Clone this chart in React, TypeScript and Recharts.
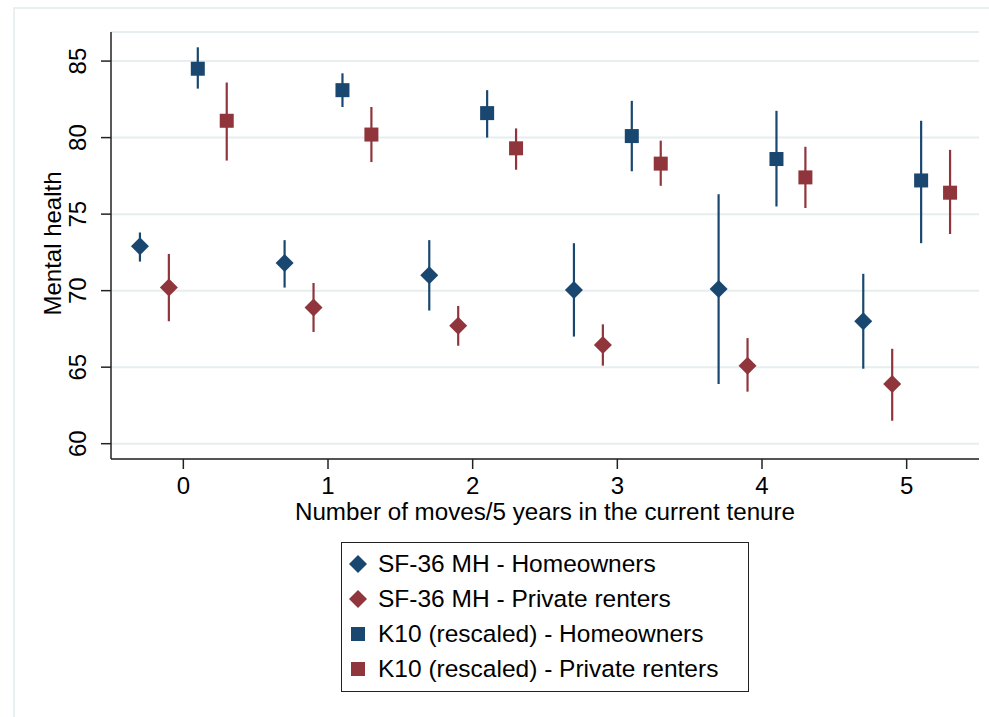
import { ScatterChart, Scatter, XAxis, YAxis, CartesianGrid, ErrorBar, Legend } from 'recharts';

const moves = [0, 1, 2, 3, 4, 5];
const yTicks = [60, 65, 70, 75, 80, 85];

const sfOwners = [72.9, 71.8, 71.0, 70.05, 70.1, 68.0];
const sfOwnersLo = [71.9, 70.2, 68.7, 67.0, 63.9, 64.9];
const sfOwnersHi = [73.8, 73.3, 73.3, 73.1, 76.3, 71.1];

const sfRenters = [70.2, 68.9, 67.7, 66.45, 65.1, 63.9];
const sfRentersLo = [68.0, 67.3, 66.4, 65.1, 63.4, 61.5];
const sfRentersHi = [72.4, 70.5, 69.0, 67.8, 66.9, 66.2];

const k10Owners = [84.5, 83.1, 81.6, 80.1, 78.6, 77.2];
const k10OwnersLo = [83.2, 82.0, 80.0, 77.8, 75.5, 73.1];
const k10OwnersHi = [85.9, 84.2, 83.1, 82.4, 81.75, 81.1];

const k10Renters = [81.1, 80.2, 79.3, 78.3, 77.4, 76.4];
const k10RentersLo = [78.5, 78.4, 77.9, 76.85, 75.4, 73.7];
const k10RentersHi = [83.6, 82.0, 80.6, 79.8, 79.4, 79.2];

const NAVY = '#1a476f';
const MAROON = '#90353b';
const FONT = '"Liberation Sans", Arial, sans-serif';

const build = (vals: number[], lo: number[], hi: number[], shift: number) =>
  moves.map((m, i) => ({ x: m + shift, y: vals[i], err: [vals[i] - lo[i], hi[i] - vals[i]] }));

const series = [
  { name: 'SF-36 MH - Homeowners', data: build(sfOwners, sfOwnersLo, sfOwnersHi, -0.3), color: NAVY, kind: 'diamond' },
  { name: 'SF-36 MH - Private renters', data: build(sfRenters, sfRentersLo, sfRentersHi, -0.1), color: MAROON, kind: 'diamond' },
  { name: 'K10 (rescaled) - Homeowners', data: build(k10Owners, k10OwnersLo, k10OwnersHi, 0.1), color: NAVY, kind: 'square' },
  { name: 'K10 (rescaled) - Private renters', data: build(k10Renters, k10RentersLo, k10RentersHi, 0.3), color: MAROON, kind: 'square' },
];

const Marker = ({ cx, cy, color, kind }: { cx: number; cy: number; color: string; kind: string }) => {
  if (kind === 'square') {
    return <rect x={cx - 7} y={cy - 7} width={14} height={14} fill={color} />;
  }
  return <path d={`M${cx},${cy - 9} L${cx + 9},${cy} L${cx},${cy + 9} L${cx - 9},${cy} Z`} fill={color} />;
};

const YTick = (props: any) => {
  const { x, y, payload } = props;
  return (
    <text
      x={x}
      y={y}
      transform={`rotate(-90, ${x}, ${y})`}
      textAnchor="middle"
      fontSize={24}
      fontFamily={FONT}
      fill="#000"
    >
      {payload.value}
    </text>
  );
};

const YLabel = (props: any) => {
  const { viewBox } = props;
  const cy = viewBox.y + viewBox.height / 2 - 2;
  return (
    <text x={61} y={cy} transform={`rotate(-90, 61, ${cy})`} textAnchor="middle" fontSize={24} fontFamily={FONT} fill="#000">
      Mental health
    </text>
  );
};

const LegendBox = () => (
  <div
    style={{
      border: '1.5px solid #222',
      width: 408,
      height: 150,
      boxSizing: 'border-box',
      padding: '3px 0 0 0',
      fontFamily: FONT,
      fontSize: 24.5,
      background: '#fff',
    }}
  >
    {series.map((s) => (
      <div key={s.name} style={{ display: 'flex', alignItems: 'center', height: 35, whiteSpace: 'nowrap' }}>
        <svg width={36} height={24} style={{ flex: 'none' }}>
          {s.kind === 'square' ? (
            <rect x={9} y={5} width={14} height={14} fill={s.color} />
          ) : (
            <path d="M16,3 L25,12 L16,21 L7,12 Z" fill={s.color} />
          )}
        </svg>
        <span style={{ color: '#000' }}>{s.name}</span>
      </div>
    ))}
  </div>
);

export default function App() {
  return (
    <div style={{ position: 'absolute', left: 0, top: 0, width: 989, height: 717, background: '#fff', overflow: 'hidden' }}>
      <div
        style={{
          position: 'absolute',
          left: 13,
          top: 7,
          width: 1000,
          height: 720,
          borderLeft: '2px solid #eaf0f2',
          borderTop: '2px solid #eaf0f2',
        }}
      />
      <ScatterChart width={989} height={717} margin={{ top: 32, right: 10, bottom: 197, left: 0 }}>
        <CartesianGrid vertical={false} stroke="#e6eef0" strokeWidth={2} />
        <XAxis
          type="number"
          dataKey="x"
          domain={[-0.5, 5.5]}
          ticks={moves}
          allowDataOverflow
          height={61}
          tickSize={10}
          tickMargin={8}
          stroke="#222"
          strokeWidth={1.5}
          tick={{ fill: '#000', fontSize: 24, fontFamily: FONT }}
          label={{
            value: 'Number of moves/5 years in the current tenure',
            position: 'insideBottom',
            offset: 0,
            fill: '#000',
            fontSize: 24.2,
            fontFamily: FONT,
          }}
        />
        <YAxis
          type="number"
          dataKey="y"
          domain={[59, 86.9]}
          ticks={yTicks}
          allowDataOverflow
          width={111}
          tickSize={10}
          tickMargin={15}
          stroke="#222"
          strokeWidth={1.5}
          tick={<YTick />}
          label={<YLabel />}
        />
        <Legend
          layout="vertical"
          align="center"
          verticalAlign="middle"
          wrapperStyle={{ left: 341, top: 542, width: 408, height: 150 }}
          content={() => <LegendBox />}
        />
        {series.map((s) => (
          <Scatter
            key={s.name}
            name={s.name}
            data={s.data}
            fill={s.color}
            isAnimationActive={false}
            shape={(p: any) => <Marker cx={p.cx} cy={p.cy} color={s.color} kind={s.kind} />}
          >
            <ErrorBar dataKey="err" direction="y" width={0} stroke={s.color} strokeWidth={2.2} isAnimationActive={false} />
          </Scatter>
        ))}
      </ScatterChart>
    </div>
  );
}
